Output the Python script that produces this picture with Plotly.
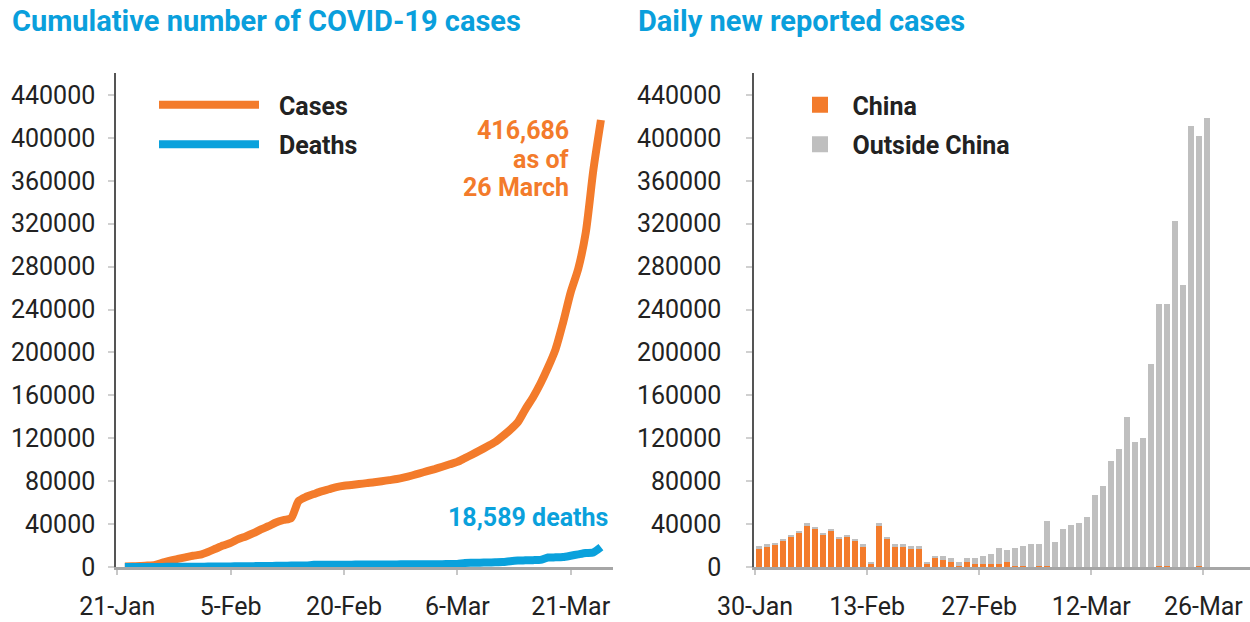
import plotly.graph_objects as go
import pandas as pd

# ---------------- data ----------------
cum_dates = pd.date_range("2020-01-22", periods=64, freq="D")
cum_cases = [500, 600, 900, 1300, 2000, 4000, 6000, 7500, 9000, 10500,
             11500, 14000, 17000, 20000, 22500, 26000, 28500, 31500, 35000, 38000,
             41500, 43800, 45500, 61500, 65500, 68000, 70500, 72500, 74500, 75800,
             76500, 77300, 78200, 79000, 80000, 81000, 82000, 83500, 85300, 87300,
             89300, 91300, 93500, 95800, 98000, 101500, 105000, 108700, 112500, 116500,
             122000, 128000, 135000, 147000, 158000, 171000, 186000, 203000, 228000, 256000,
             278000, 312000, 370000, 416686]
cum_deaths = [20, 30, 40, 60, 80, 110, 130, 170, 210, 260,
              300, 360, 430, 490, 560, 640, 720, 810, 900, 1000,
              1100, 1200, 1300, 1400, 1500, 2000, 2040, 2080, 2120, 2160,
              2200, 2240, 2280, 2320, 2360, 2400, 2440, 2480, 2520, 2560,
              2600, 2640, 2680, 2720, 2760, 3800, 3900, 4000, 4200, 4400,
              4600, 5400, 6000, 6200, 6400, 6600, 8800, 9000, 9300, 10500,
              11800, 13000, 13600, 18589]

daily_dates = pd.date_range("2020-01-30", periods=57, freq="D")
daily_china = [16800, 18900, 20800, 24200, 28000, 31700, 38500, 35100, 29800, 33600,
               26100, 28000, 24200, 18900, 2800, 38500, 26100, 18900, 18900, 16800,
               16800, 2800, 8100, 6500, 4700, 900, 4700, 2800, 2800, 2800,
               2800, 4700, 900, 900, 300, 900, 900, 0, 0, 0,
               0, 0, 0, 0, 0, 0, 0, 0, 0, 0,
               1200, 1200, 0, 0, 0, 1200, 0]
daily_outside = [2500, 2200, 1900, 2200, 1800, 1900, 2200, 2200, 1900, 1500,
                 2200, 1800, 2200, 2200, 1900, 2200, 2200, 2200, 2200, 2500,
                 2500, 1900, 2200, 3800, 3700, 3800, 3700, 5600, 7700, 9300,
                 14600, 10900, 16500, 18300, 20800, 20200, 41700, 23300, 35700, 39400,
                 41300, 46600, 66800, 75500, 98800, 109700, 140100, 116500, 120300, 189200,
                 243700, 243700, 322600, 262900, 411100, 400900, 418300]

left_ticks = ["2020-01-21", "2020-02-05", "2020-02-20", "2020-03-06", "2020-03-21"]
right_ticks = ["2020-01-30", "2020-02-13", "2020-02-27", "2020-03-12", "2020-03-26"]
y_ticks = [0, 40000, 80000, 120000, 160000, 200000, 240000, 280000, 320000, 360000, 400000, 440000]

# ---------------- style ----------------
W, H = 1250, 622
ORANGE = "#f37b2b"
BLUE = "#0aa1dc"
GRAY = "#bfbfbf"
TITLE_BLUE = "#0a9fdc"
TXT = "#222222"
FONT = "Roboto"


def px(x):
    """page pixel x -> paper fraction"""
    return x / W


def py(y):
    """page pixel y -> paper fraction"""
    return 1 - y / H


fig = go.Figure()

fig.add_trace(go.Scatter(
    x=cum_dates, y=cum_cases, name="\u00a0\u00a0\u200aCases", mode="lines",
    line=dict(color=ORANGE, width=8, shape="spline", smoothing=0.7),
    xaxis="x", yaxis="y", legend="legend", legendgroup="cases"))
fig.add_trace(go.Scatter(
    x=cum_dates, y=cum_deaths, name="\u00a0\u00a0\u200aDeaths", mode="lines",
    line=dict(color=BLUE, width=8, shape="spline", smoothing=0.5),
    xaxis="x", yaxis="y", legend="legend", legendgroup="deaths"))

fig.add_trace(go.Bar(
    x=daily_dates, y=daily_china, name="China", marker=dict(color=ORANGE, line=dict(width=0)),
    xperiod=86400000, xperiodalignment="middle",
    xaxis="x2", yaxis="y2", showlegend=False))
fig.add_trace(go.Bar(
    x=daily_dates, y=daily_outside, name="Outside China", marker=dict(color=GRAY, line=dict(width=0)),
    xperiod=86400000, xperiodalignment="middle",
    xaxis="x2", yaxis="y2", showlegend=False))

# legend entries for the bar chart
fig.add_trace(go.Scatter(
    x=[None], y=[None], mode="markers", name="\u00a0\u00a0China",
    marker=dict(symbol="square", size=17, color=ORANGE),
    xaxis="x2", yaxis="y2", legend="legend2", legendgroup="china"))
fig.add_trace(go.Scatter(
    x=[None], y=[None], mode="markers", name="\u00a0\u00a0Outside China",
    marker=dict(symbol="square", size=17, color=GRAY),
    xaxis="x2", yaxis="y2", legend="legend2", legendgroup="outside"))

ydom = [py(567), py(73)]
tickfont = dict(family=FONT, size=25, color=TXT)

common_x = dict(type="date", showline=True, linecolor="#a6a6a6", linewidth=2.5,
                ticks="outside", ticklen=5, tickcolor="#c8c8c8", tickwidth=1.5,
                tickfont=tickfont, tickformat="%-d-%b", showgrid=False, zeroline=False,
                fixedrange=True, automargin=False, ticklabelstandoff=10)
common_y = dict(range=[0, 460500], tickvals=y_ticks, tickformat="d",
                showline=True, linecolor="#555555", linewidth=1.5,
                ticks="outside", ticklen=6, tickcolor="#d0d0d0", tickwidth=1.5,
                tickfont=tickfont, showgrid=False, zeroline=False, domain=ydom,
                automargin=False, fixedrange=True)

legend_font = dict(family=FONT, size=25, color=TXT, weight="bold")

fig.update_layout(
    width=W, height=H, autosize=False,
    margin=dict(l=0, r=0, t=0, b=0, pad=0, autoexpand=False),
    paper_bgcolor="white", plot_bgcolor="white",
    barmode="stack", bargap=0.25,
    font=dict(family=FONT, color=TXT),
    xaxis=dict(domain=[px(116), px(613.3)], anchor="y",
               range=["2020-01-20 19:52", "2020-03-26 15:22"],
               tickvals=left_ticks, **common_x),
    yaxis=dict(anchor="x", ticklabelstandoff=8, **common_y),
    xaxis2=dict(domain=[px(754), 1.0], anchor="y2",
                range=["2020-01-29 21:00", "2020-03-31 19:42"],
                tickvals=right_ticks, **common_x),
    yaxis2=dict(anchor="x2", ticklabelstandoff=20, **common_y),
    legend=dict(x=px(154), y=py(82), xanchor="left", yanchor="top",
                font=legend_font, itemwidth=100, tracegroupgap=4,
                bgcolor="rgba(0,0,0,0)", borderwidth=0),
    legend2=dict(x=px(800), y=py(82), xanchor="left", yanchor="top",
                 font=legend_font, tracegroupgap=4,
                 bgcolor="rgba(0,0,0,0)", borderwidth=0),
    showlegend=True,
)

ann_font = dict(family=FONT, size=25, weight="bold")
fig.add_annotation(text="Cumulative number of COVID-19 cases", xref="paper", yref="paper",
                   x=px(10), y=py(21), xanchor="left", yanchor="middle", showarrow=False,
                   font=dict(family=FONT, size=29, weight="bold", color=TITLE_BLUE))
fig.add_annotation(text="Daily new reported cases", xref="paper", yref="paper",
                   x=px(636), y=py(21), xanchor="left", yanchor="middle", showarrow=False,
                   font=dict(family=FONT, size=29, weight="bold", color=TITLE_BLUE))
for txt, yy in [("416,686", 130), ("as of", 159), ("26 March", 187)]:
    fig.add_annotation(text=txt, xref="paper", yref="paper", x=px(571), y=py(yy),
                       xanchor="right", yanchor="middle", showarrow=False,
                       font=dict(color=ORANGE, **ann_font))
fig.add_annotation(text="18,589 deaths", xref="paper", yref="paper", x=px(610), y=py(517),
                   xanchor="right", yanchor="middle", showarrow=False,
                   font=dict(color=BLUE, **ann_font))

# remove the default 8px page margin so the figure fills the window exactly
fig.write_html("out.html", config={"displayModeBar": False},
               post_script="document.body.style.margin='0';")
